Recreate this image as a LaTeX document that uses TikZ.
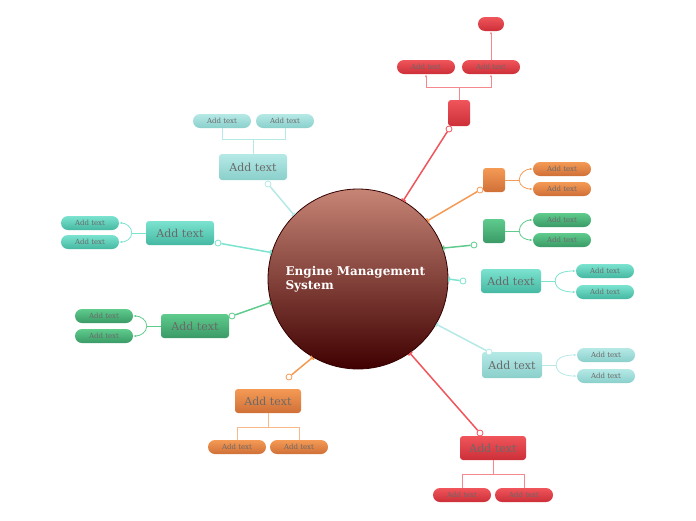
\documentclass[tikz,border=0pt]{standalone}
\usepackage{fontspec}
\setmainfont{DejaVu Serif}
\usetikzlibrary{arrows.meta,calc}
\definecolor{ltA}{HTML}{B5E9E6}\definecolor{ltB}{HTML}{8ACFCB}
\definecolor{tqA}{HTML}{7BE3CF}\definecolor{tqB}{HTML}{45B8A2}
\definecolor{gnA}{HTML}{5FCB8D}\definecolor{gnB}{HTML}{3A9A66}
\definecolor{orA}{HTML}{F59A55}\definecolor{orB}{HTML}{CF7038}
\definecolor{rdA}{HTML}{F0555C}\definecolor{rdB}{HTML}{CC2F37}
\definecolor{txt}{HTML}{6A6A6A}
\tikzset{
 topic/.style={rounded corners=3pt,minimum height=24pt,inner sep=0pt,font=\fontsize{11}{12}\selectfont,text=txt},
 sub/.style={rounded corners=7pt,minimum height=14pt,minimum width=58pt,inner sep=0pt,font=\fontsize{7}{8}\selectfont,text=txt},
 lt/.style={top color=ltA,bottom color=ltB},
 tq/.style={top color=tqA,bottom color=tqB},
 gn/.style={top color=gnA,bottom color=gnB},
 or/.style={top color=orA,bottom color=orB},
 rd/.style={top color=rdA,bottom color=rdB},
 conn/.style={line width=1.5pt,-{Bar[width=5pt]}},
 dotm/.style={circle,draw,fill=white,line width=0.8pt,minimum size=6pt,inner sep=0pt},
 br/.style={line width=0.8pt}
}
\begin{document}
\begin{tikzpicture}[x=1pt,y=-1pt]
\useasboundingbox (0,0) rectangle (696,520);
\node[circle,minimum size=180pt,draw=black!80!red,line width=0.8pt,top color=black!45!red!60!brown!60,bottom color=black!75!red,inner sep=0pt] (c) at (358,279) {};
\node[font=\bfseries\fontsize{12}{14}\selectfont,text=white,align=left,anchor=west] (title) at (282,279) {Engine Management\\System};
% top red
\node[topic,rd,minimum width=22pt,minimum height=26pt] (r1) at (459,113) {};
\node[sub,rd] (r1a) at (426,67) {Add text};
\node[sub,rd] (r1b) at (491,67) {Add text};
\node[sub,rd,minimum width=26pt] (r1c) at (491,24) {};
\node[dotm,draw=rdA] (dr1) at (449,129) {};
\draw[conn,rdA] (dr1) -- (c.60);
\draw[br,rdA!70] (r1.north) -- ++(0,-12) coordinate (jr1);
\draw[br,rdA!70,-{Latex[length=3pt]}] (jr1) -| (r1a.south);
\draw[br,rdA!70,-{Latex[length=3pt]}] (jr1) -| (r1b.south);
\draw[br,rdA!70,-{Latex[length=3pt]}] (r1b.north) -- (r1c.south);
% orange right
\node[topic,or,minimum width=22pt] (o1) at (494,180) {};
\node[sub,or] (o1a) at (562,169) {Add text};
\node[sub,or] (o1b) at (562,189) {Add text};
\node[dotm,draw=orA] (do1) at (480,190) {};
\draw[conn,orA] (do1) -- (c.40);
% green right
\node[topic,gn,minimum width=22pt] (g1) at (494,231) {};
\node[sub,gn] (g1a) at (562,220) {Add text};
\node[sub,gn] (g1b) at (562,240) {Add text};
\node[dotm,draw=gnA] (dg1) at (474,245) {};
\draw[conn,gnA] (dg1) -- (c.20);
% teal right
\node[topic,tq,minimum width=60pt] (t1) at (511,281) {Add text};
\node[sub,tq] (t1a) at (605,271) {Add text};
\node[sub,tq] (t1b) at (605,292) {Add text};
\node[dotm,draw=tqA] (dt1) at (463,281) {};
\draw[conn,tqA] (dt1) -- (c.east);
% light teal right
\node[topic,lt,minimum width=60pt,minimum height=26pt] (l1) at (512,365) {Add text};
\node[sub,lt] (l1a) at (606,355) {Add text};
\node[sub,lt] (l1b) at (606,376) {Add text};
\node[dotm,draw=ltA] (dl1) at (489,352) {};
\draw[conn,ltA] (dl1) -- (c.-30);
% red bottom
\node[topic,rd,minimum width=66pt] (r2) at (493,448) {Add text};
\node[sub,rd] (r2a) at (462,495) {Add text};
\node[sub,rd] (r2b) at (524,495) {Add text};
\node[dotm,draw=rdA] (dr2) at (480,433) {};
\draw[conn,rdA] (dr2) -- (c.-55);
% orange bottom
\node[topic,or,minimum width=66pt] (o2) at (268,401) {Add text};
\node[sub,or] (o2a) at (237,447) {Add text};
\node[sub,or] (o2b) at (299,447) {Add text};
\node[dotm,draw=orA] (do2) at (289,377) {};
\draw[conn,orA] (do2) -- (c.-120);
% green left
\node[topic,gn,minimum width=68pt] (g2) at (195,326) {Add text};
\node[sub,gn] (g2a) at (104,316) {Add text};
\node[sub,gn] (g2b) at (104,336) {Add text};
\node[dotm,draw=gnA] (dg2) at (232,316) {};
\draw[conn,gnA] (dg2) -- (c.195);
% teal left
\node[topic,tq,minimum width=68pt] (t2) at (180,233) {Add text};
\node[sub,tq] (t2a) at (90,223) {Add text};
\node[sub,tq] (t2b) at (90,242) {Add text};
\node[dotm,draw=tqA] (dt2) at (218,243) {};
\draw[conn,tqA] (dt2) -- (c.163);
% light teal top
\node[topic,lt,minimum width=68pt,minimum height=26pt] (l2) at (253,167) {Add text};
\node[sub,lt] (l2a) at (222,121) {Add text};
\node[sub,lt] (l2b) at (285,121) {Add text};
\node[dotm,draw=ltA] (dl2) at (268,184) {};
\draw[conn,ltA] (dl2) -- (c.135);
% right-side branches
\foreach \p/\a/\b/\col in {o1/o1a/o1b/orA,g1/g1a/g1b/gnA,t1/t1a/t1b/tqA,l1/l1a/l1b/ltA}{
 \draw[br,\col] (\p.east) -- ++(14,0) coordinate (j\p);
 \draw[br,\col,-{Latex[length=3pt]}] (j\p) to[out=90,in=180] (\a.west);
 \draw[br,\col,-{Latex[length=3pt]}] (j\p) to[out=-90,in=180] (\b.west);
}
\foreach \p/\a/\b/\col in {g2/g2a/g2b/gnA,t2/t2a/t2b/tqA}{
 \draw[br,\col] (\p.west) -- ++(-14,0) coordinate (j\p);
 \draw[br,\col,-{Latex[length=3pt]}] (j\p) to[out=90,in=0] (\a.east);
 \draw[br,\col,-{Latex[length=3pt]}] (j\p) to[out=-90,in=0] (\b.east);
}
\draw[br,rdA!70] (r2.south) -- ++(0,-0) -- ++(0,14) coordinate (jr2);
\draw[br,rdA!70] (jr2) -| (r2a.north);
\draw[br,rdA!70] (jr2) -| (r2b.north);
\draw[br,orA!70] (o2.south) -- ++(0,14) coordinate (jo2);
\draw[br,orA!70] (jo2) -| (o2a.north);
\draw[br,orA!70] (jo2) -| (o2b.north);
\draw[br,ltA] (l2.north) -- ++(0,-14) coordinate (jl2);
\draw[br,ltA] (jl2) -| (l2a.south);
\draw[br,ltA] (jl2) -| (l2b.south);
\end{tikzpicture}
\end{document}
